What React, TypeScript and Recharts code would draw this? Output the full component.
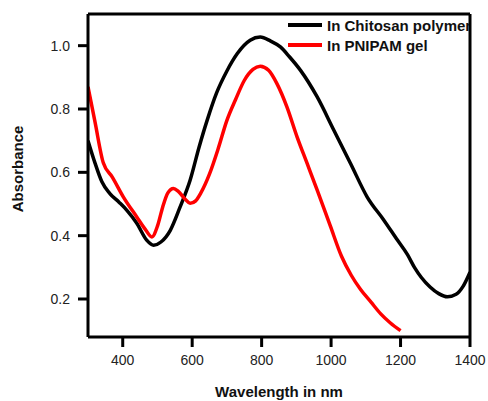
import React from 'react';
import { LineChart, Line, XAxis, YAxis, Legend } from 'recharts';

const FONT = '"Liberation Sans", Arial, Helvetica, sans-serif';

// spectra
const chitosanWavelength = [
  300, 320, 340, 363, 390, 412, 440, 469, 489, 510, 537, 565, 594, 620, 643, 670, 700, 730,
  767, 796, 825, 854, 880, 912, 960, 1008, 1056, 1104, 1152, 1191, 1220, 1240, 1260, 1285,
  1310, 1335, 1360, 1380, 1400,
];
const chitosanAbsorbance = [
  0.7, 0.63, 0.57, 0.533, 0.505, 0.48, 0.44, 0.386, 0.37, 0.38, 0.417, 0.49, 0.575, 0.68,
  0.764, 0.85, 0.92, 0.975, 1.017, 1.027, 1.015, 0.996, 0.965, 0.922, 0.838, 0.733, 0.628,
  0.522, 0.449, 0.386, 0.34, 0.3, 0.268, 0.238, 0.217, 0.207, 0.215, 0.24, 0.285,
];

const pnipamWavelength = [
  300, 320, 344, 370, 402, 440, 465, 484, 500, 515, 530, 546, 560, 580, 594, 610, 625, 650,
  675, 700, 725, 750, 775, 796, 820, 844, 873, 902, 931, 960, 998, 1030, 1058, 1085, 1115,
  1143, 1170, 1200,
];
const pnipamAbsorbance = [
  0.87, 0.76, 0.63, 0.585, 0.522, 0.46, 0.42, 0.396, 0.43, 0.49, 0.535, 0.549, 0.54, 0.515,
  0.502, 0.51, 0.535, 0.595, 0.675, 0.764, 0.83, 0.89, 0.925, 0.935, 0.922, 0.88, 0.806,
  0.712, 0.628, 0.544, 0.43, 0.335, 0.275, 0.23, 0.19, 0.153, 0.125, 0.1,
];

const xTicks = [400, 600, 800, 1000, 1200, 1400];
const xMinorTicks = [500, 700, 900, 1100, 1300];
const xTopTicks = [400, 500, 600, 700, 800, 900, 1000, 1100, 1200, 1300];
const yTicks = [0.2, 0.4, 0.6, 0.8, 1.0];

const seriesNames = ['In Chitosan polymer', 'In PNIPAM gel'];
const seriesColors = ['#000000', '#ff0000'];

const chitosanData = chitosanWavelength.map((x, i) => ({ x, y: chitosanAbsorbance[i] }));
const pnipamData = pnipamWavelength.map((x, i) => ({ x, y: pnipamAbsorbance[i] }));

const LegendBox = () => (
  <div style={{ fontFamily: FONT, fontWeight: 'bold', fontSize: 15, color: '#111' }}>
    {seriesNames.map((name, i) => (
      <div key={name} style={{ display: 'flex', alignItems: 'center', height: 20, whiteSpace: 'nowrap' }}>
        <span style={{ width: 34, height: 4, background: seriesColors[i], marginRight: 5, flex: 'none' }} />
        <span>{name}</span>
      </div>
    ))}
  </div>
);

const tickStyle = { fill: '#222', fontSize: 14, fontFamily: FONT };

export default function App() {
  return (
    <div style={{ position: 'absolute', left: 0, top: 0 }}>
      <LineChart width={488} height={401} margin={{ top: 14, right: 18, left: 28, bottom: 34 }}>
        <XAxis
          xAxisId="main"
          dataKey="x"
          type="number"
          domain={[300, 1400]}
          allowDataOverflow
          ticks={xTicks}
          height={30}
          stroke="#000"
          strokeWidth={3}
          tickSize={10}
          tickMargin={8}
          tick={tickStyle}
          label={{
            content: () => (
              <text x={279} y={397} textAnchor="middle" fontFamily={FONT} fontWeight="bold" fontSize={15} fill="#111">
                Wavelength in nm
              </text>
            ),
          }}
        />
        <XAxis
          xAxisId="minor"
          dataKey="x"
          type="number"
          domain={[300, 1400]}
          allowDataOverflow
          ticks={xMinorTicks}
          orientation="bottom"
          mirror
          height={1}
          axisLine={false}
          stroke="#000"
          strokeWidth={2}
          tickSize={4}
          tick={false}
        />
        <XAxis
          xAxisId="top"
          dataKey="x"
          type="number"
          domain={[300, 1400]}
          allowDataOverflow
          ticks={xTopTicks}
          orientation="top"
          mirror
          height={1}
          stroke="#000"
          strokeWidth={3}
          tickSize={4}
          tick={false}
        />
        <YAxis
          yAxisId="main"
          type="number"
          domain={[0.08, 1.1]}
          allowDataOverflow
          ticks={yTicks}
          width={60}
          stroke="#000"
          strokeWidth={3}
          tickSize={10}
          tickMargin={8}
          tick={tickStyle}
          tickFormatter={(v: number) => v.toFixed(1)}
          label={{
            content: () => (
              <text
                x={23}
                y={169}
                transform="rotate(-90 23 169)"
                textAnchor="middle"
                fontFamily={FONT}
                fontWeight="bold"
                fontSize={15}
                fill="#111"
              >
                Absorbance
              </text>
            ),
          }}
        />
        <YAxis
          yAxisId="right"
          type="number"
          domain={[0.08, 1.1]}
          allowDataOverflow
          orientation="right"
          mirror
          width={1}
          stroke="#000"
          strokeWidth={3}
          tick={false}
          tickLine={false}
        />
        <Legend
          layout="vertical"
          align="center"
          verticalAlign="middle"
          content={() => <LegendBox />}
          wrapperStyle={{ left: 288, top: 15, width: 181, height: 42, overflow: 'hidden' }}
        />
        <Line
          xAxisId="main"
          yAxisId="main"
          data={chitosanData}
          dataKey="y"
          name={seriesNames[0]}
          type="monotone"
          stroke={seriesColors[0]}
          strokeWidth={3.5}
          dot={false}
          isAnimationActive={false}
        />
        <Line
          xAxisId="main"
          yAxisId="main"
          data={pnipamData}
          dataKey="y"
          name={seriesNames[1]}
          type="monotone"
          stroke={seriesColors[1]}
          strokeWidth={3.5}
          dot={false}
          isAnimationActive={false}
        />
      </LineChart>
    </div>
  );
}
